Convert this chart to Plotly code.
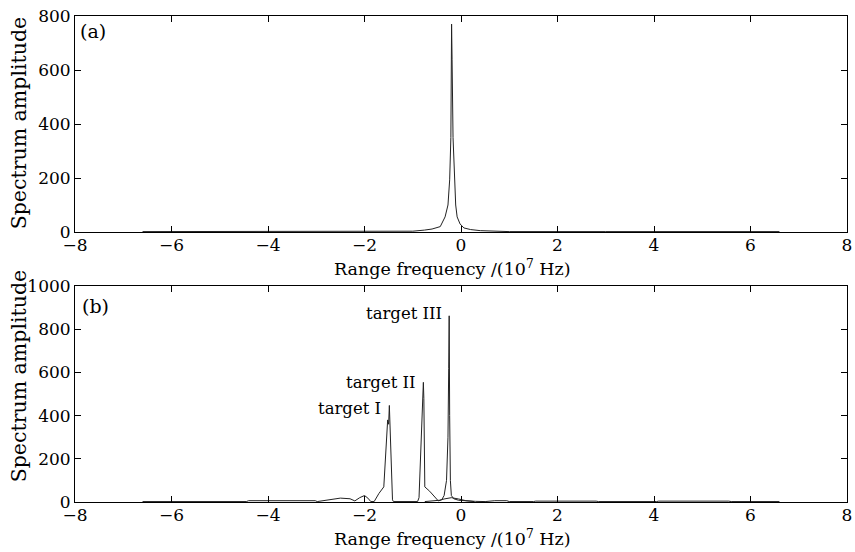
import plotly.graph_objects as go

# ---- data (x in 10^7 Hz) ----
a_x = [-6.6, -5.0, -3.0, -1.31, -1.0, -0.76, -0.6, -0.43, -0.33, -0.27, -0.235, -0.21,
       -0.195, -0.185, -0.165, -0.14, -0.11, -0.08, -0.02, 0.06, 0.2, 0.4, 0.7, 0.95,
       1.0, 3.0, 5.0, 6.6]
a_y = [1.5, 1.5, 1.5, 1.5, 3, 7, 11, 20, 56, 100, 193, 350,
       770, 640, 350, 193, 100, 56, 30, 15, 9, 5, 3, 2,
       1.5, 1.5, 1.5, 1.5]

b_x = [-6.6, -5.6, -5.55, -4.8, -4.75, -4.45, -4.4, -3.02, -2.98, -2.75, -2.5, -2.3,
       -2.2, -2.1, -2.0, -1.93, -1.87, -1.80, -1.70, -1.60, -1.57, -1.54, -1.52, -1.50,
       -1.485, -1.475, -1.46, -1.44, -1.42, -1.40, -0.90, -0.87, -0.82, -0.79, -0.78,
       -0.77, -0.76, -0.75, -0.65, -0.55, -0.47, -0.40, -0.35, -0.30, -0.27, -0.255,
       -0.245, -0.235, -0.22, -0.20, -0.15, -0.05, 0.1, 0.3, 0.5, 0.7, 0.95, 1.0,
       1.5, 1.55, 2.8, 2.85, 4.05, 4.1, 5.55, 5.6, 6.6]
b_y = [2, 2, 5, 5, 2, 2, 6, 6, 2, 10, 18, 15,
       5, 20, 30, 18, 2, 2, 40, 70, 200, 330, 380, 360,
       447, 380, 300, 150, 10, 2, 2, 20, 300, 500, 554,
       480, 100, 70, 50, 25, 5, 10, 30, 100, 300, 617,
       862, 400, 100, 30, 15, 8, 5, 3, 2, 6, 6, 2,
       2, 4, 4, 2, 2, 4, 4, 2, 2]

# overlapping side-lobe curve in panel (b)
s_x = [-0.75, -0.6, -0.45, -0.35, -0.2, -0.05, 0.1, 0.27]
s_y = [2, 4, 8, 14, 20, 14, 6, 2]

x_ticks = [-8, -6, -4, -2, 0, 2, 4, 6, 8]
a_ticks = [0, 200, 400, 600, 800]
b_ticks = [0, 200, 400, 600, 800, 1000]

targets = ["target I", "target II", "target III"]
target_x = [-1.62, -0.9, -0.35]
target_y = [433, 553, 871]

FONT = "DejaVu Serif"
TICK_FS = 17
line_col = "#222222"

W, H = 855, 552
ML, MR, MT, MB = 75, 3, 16, 50

fig = go.Figure()
fig.add_trace(go.Scatter(x=a_x, y=a_y, mode="lines", line=dict(color=line_col, width=1),
                         xaxis="x", yaxis="y", showlegend=False))
fig.add_trace(go.Scatter(x=b_x, y=b_y, mode="lines", line=dict(color=line_col, width=1),
                         xaxis="x2", yaxis="y2", showlegend=False))
fig.add_trace(go.Scatter(x=s_x, y=s_y, mode="lines", line=dict(color=line_col, width=1),
                         xaxis="x2", yaxis="y2", showlegend=False))

axis_common = dict(showline=True, linecolor="black", linewidth=1, mirror="ticks",
                   ticks="inside", ticklen=6, tickcolor="black", showgrid=False,
                   zeroline=False, ticklabeloverflow="allow",
                   tickfont=dict(family=FONT, size=TICK_FS, color="black"))

pw, ph = W - ML - MR, H - MT - MB
top_dom = [(H - MB - 232) / ph, 1]
bot_dom = [0, (H - MB - 286) / ph]

fig.update_layout(
    width=W, height=H,
    margin=dict(l=ML, r=MR, t=MT, b=MB),
    paper_bgcolor="white", plot_bgcolor="white",
    font=dict(family=FONT, size=TICK_FS, color="black"),
    xaxis=dict(domain=[0, 1], anchor="y", range=[-8, 8], tickvals=x_ticks,
               ticklabelstandoff=-2, **axis_common),
    yaxis=dict(domain=top_dom, anchor="x", range=[0, 800], tickvals=a_ticks, **axis_common),
    xaxis2=dict(domain=[0, 1], anchor="y2", range=[-8, 8], tickvals=x_ticks,
                ticklabelstandoff=-2, **axis_common),
    yaxis2=dict(domain=bot_dom, anchor="x2", range=[0, 1000], tickvals=b_ticks, **axis_common),
)


def px_to_paper(px, py):
    return (px - ML) / pw, (H - MB - py) / ph


ann = []
for text, px, py, ang, fs in [
    ("Range frequency /(10<sup>7</sup> Hz)", 455, 268, 0, 17.5),
    ("Range frequency /(10<sup>7</sup> Hz)", 455, 538, 0, 17.5),
    ("Spectrum amplitude", 19, 123, -90, 20.5),
    ("Spectrum amplitude", 19, 376, -90, 20.5),
]:
    x, y = px_to_paper(px, py)
    ann.append(dict(text=text, x=x, y=y, xref="paper", yref="paper", showarrow=False,
                    textangle=ang, xanchor="center", yanchor="middle",
                    font=dict(family=FONT, size=fs)))

ann.append(dict(text="(a)", x=-7.93, y=744, xref="x", yref="y", showarrow=False,
                xanchor="left", yanchor="middle", font=dict(family=FONT, size=19)))
ann.append(dict(text="(b)", x=-7.9, y=908, xref="x2", yref="y2", showarrow=False,
                xanchor="left", yanchor="middle", font=dict(family=FONT, size=19)))
for t, tx, ty in zip(targets, target_x, target_y):
    ann.append(dict(text=t, x=tx, y=ty, xref="x2", yref="y2", showarrow=False,
                    xanchor="right", yanchor="middle", font=dict(family=FONT, size=16.5)))

fig.update_layout(annotations=ann)
fig.write_html("out.html", config={"displayModeBar": False},
               post_script="document.body.style.margin='0';document.body.style.overflow='hidden';")
